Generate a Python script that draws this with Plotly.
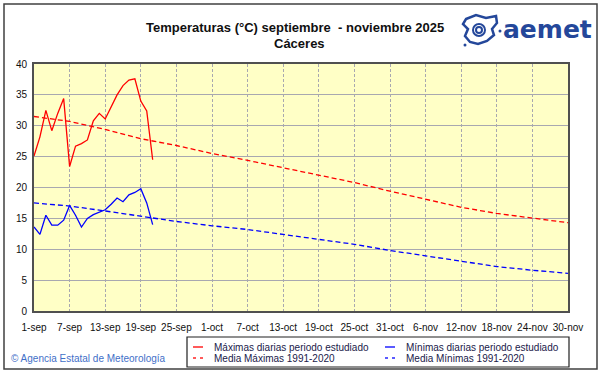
import datetime as dt
import plotly.graph_objects as go

# ---------------- data ----------------
start = dt.date(2025, 9, 1)
max_diarias = [25.1, 28.2, 32.5, 29.2, 32.0, 34.4, 23.4, 26.7, 27.1, 27.7, 30.8,
               32.0, 31.1, 33.1, 35.0, 36.5, 37.4, 37.6, 34.0, 32.4, 24.5]
min_diarias = [13.6, 12.4, 15.5, 13.9, 13.9, 14.7, 17.1, 15.5, 13.6, 15.0, 15.6,
               16.0, 16.4, 17.3, 18.3, 17.7, 18.8, 19.2, 19.8, 17.5, 14.0]
tick_labels = ["1-sep", "7-sep", "13-sep", "19-sep", "25-sep", "1-oct", "7-oct",
               "13-oct", "19-oct", "25-oct", "31-oct", "6-nov", "12-nov",
               "18-nov", "24-nov", "30-nov"]
media_max = [31.5, 30.7, 29.4, 27.9, 26.8, 25.5, 24.4, 23.2, 22.0, 20.8, 19.4,
             18.1, 16.8, 15.8, 15.0, 14.3]
media_min = [17.5, 17.0, 16.2, 15.3, 14.5, 13.8, 13.2, 12.4, 11.6, 10.8, 9.8,
             8.9, 8.0, 7.2, 6.6, 6.1]
y_ticks = [0, 5, 10, 15, 20, 25, 30, 35, 40]

days_obs = [start + dt.timedelta(days=i) for i in range(len(max_diarias))]
tick_dates = [start + dt.timedelta(days=6 * i) for i in range(len(tick_labels))]

# ---------------- layout helpers ----------------
W, H = 601, 374
L, R, T, B = 34, 33, 64, 63
PW, PH = W - L - R, H - T - B


def px(x):
    return (x - L) / PW


def py(y):
    return (H - B - y) / PH


RED, BLUE = "#FF0000", "#0000FF"
FONT = "Liberation Sans, Arial, sans-serif"

fig = go.Figure()
fig.add_trace(go.Scatter(x=tick_dates, y=media_max, mode="lines",
                         line=dict(color=RED, width=1.3, dash="5px,3px"),
                         name="Media Máximas 1991-2020", showlegend=False,
                         hoverinfo="skip"))
fig.add_trace(go.Scatter(x=tick_dates, y=media_min, mode="lines",
                         line=dict(color=BLUE, width=1.3, dash="5px,3px"),
                         name="Media Mínimas 1991-2020", showlegend=False,
                         hoverinfo="skip"))
fig.add_trace(go.Scatter(x=days_obs, y=max_diarias, mode="lines",
                         line=dict(color=RED, width=1.3),
                         name="Máximas diarias periodo estudiado", showlegend=False))
fig.add_trace(go.Scatter(x=days_obs, y=min_diarias, mode="lines",
                         line=dict(color=BLUE, width=1.3),
                         name="Mínimas diarias periodo estudiado", showlegend=False))

shapes = []
annotations = []

# outer frame
shapes.append(dict(type="rect", xref="paper", yref="paper",
                   x0=px(4), x1=px(597), y0=py(369), y1=py(4),
                   line=dict(color="#404040", width=1.5), layer="below"))

# legend box
shapes.append(dict(type="rect", xref="paper", yref="paper",
                   x0=px(187), x1=px(569), y0=py(367), y1=py(337),
                   line=dict(color="#202020", width=1.2), fillcolor="white"))
leg = [
    (193, 347, RED, "solid", "Máximas diarias periodo estudiado"),
    (385, 347, BLUE, "solid", "Mínimas diarias periodo estudiado"),
    (193, 358, RED, "dash", "Media Máximas 1991-2020"),
    (385, 358, BLUE, "dash", "Media Mínimas 1991-2020"),
]
for x0, yy, col, dsh, txt in leg:
    if dsh == "solid":
        shapes.append(dict(type="line", xref="paper", yref="paper",
                           x0=px(x0), x1=px(x0 + 10), y0=py(yy), y1=py(yy),
                           line=dict(color=col, width=1.3)))
    else:
        for seg in (0, 7):
            shapes.append(dict(type="line", xref="paper", yref="paper",
                               x0=px(x0 + seg), x1=px(x0 + seg + 3), y0=py(yy), y1=py(yy),
                               line=dict(color=col, width=1.3)))
    annotations.append(dict(xref="paper", yref="paper", x=px(x0 + 19), y=py(yy),
                            xanchor="left", yanchor="middle", showarrow=False,
                            text=txt, font=dict(family=FONT, size=10, color="#20204a")))

# title
TFONT = "Liberation Sans Narrow, Arial Narrow, Liberation Sans"
annotations.append(dict(xref="paper", yref="paper", x=px(295), y=py(27),
                        xanchor="center", yanchor="middle", showarrow=False,
                        text="Temperaturas (°C) septiembre  - noviembre 2025",
                        font=dict(family=TFONT, size=13, color="#101010", weight="bold")))
annotations.append(dict(xref="paper", yref="paper", x=px(299), y=py(44),
                        xanchor="center", yanchor="middle", showarrow=False,
                        text="Cáceres",
                        font=dict(family=TFONT, size=13, color="#101010", weight="bold")))

# footer
annotations.append(dict(xref="paper", yref="paper", x=px(9), y=py(358),
                        xanchor="left", yanchor="middle", showarrow=False,
                        text="© Agencia Estatal de Meteorología",
                        font=dict(family=FONT, size=10, color="#3f6fc8")))

# logo
LOGO = "#24479a"
pts = [(466, 19), (476, 15), (486, 18), (496, 16), (497, 23), (492, 29), (494, 35),
       (487, 41), (478, 44), (470, 42), (465, 36), (468, 29), (463, 24)]
path = "M " + " L ".join(f"{px(a):.4f},{py(b):.4f}" for a, b in pts) + " Z"
shapes.append(dict(type="path", xref="paper", yref="paper", path=path,
                   fillcolor="white", line=dict(color=LOGO, width=2.5)))
for r in (6, 3):
    shapes.append(dict(type="circle", xref="paper", yref="paper",
                       x0=px(479 - r), x1=px(479 + r), y0=py(30 + r), y1=py(30 - r),
                       line=dict(color=LOGO, width=2)))
for cx, cy in ((500, 31), (465, 45)):
    shapes.append(dict(type="circle", xref="paper", yref="paper",
                       x0=px(cx - 1.5), x1=px(cx + 1.5), y0=py(cy + 1.5), y1=py(cy - 1.5),
                       fillcolor=LOGO, line=dict(color=LOGO, width=0)))
annotations.append(dict(xref="paper", yref="paper", x=px(501), y=py(29),
                        xanchor="left", yanchor="middle", showarrow=False,
                        text="aemet",
                        font=dict(family="DejaVu Sans", size=25, color=LOGO, weight="bold")))

fig.update_layout(
    width=W, height=H,
    margin=dict(l=L, r=R, t=T, b=B, pad=0),
    paper_bgcolor="white",
    plot_bgcolor="#FFFFC6",
    showlegend=False,
    shapes=shapes,
    annotations=annotations,
    font=dict(family=FONT, size=10, color="#101010"),
)
fig.update_xaxes(
    range=[start, start + dt.timedelta(days=90)],
    tickvals=tick_dates, ticktext=tick_labels,
    showgrid=True, gridcolor="#A8A8B0", griddash="3px,2px", gridwidth=1,
    showline=True, linecolor="#505050", linewidth=2, mirror=True,
    ticks="outside", ticklen=6, tickcolor="rgba(0,0,0,0)",
    tickfont=dict(family=FONT, size=10, color="#101010"),
    zeroline=False, fixedrange=True,
)
fig.update_yaxes(
    range=[0, 40], tickvals=y_ticks,
    showgrid=True, gridcolor="#A8A8B0", gridwidth=1,
    showline=True, linecolor="#505050", linewidth=2, mirror=True,
    ticks="outside", ticklen=3, tickcolor="rgba(0,0,0,0)",
    tickfont=dict(family=FONT, size=10, color="#101010"),
    zeroline=False, fixedrange=True,
)

fig.write_html("out.html",
               config={"displayModeBar": False},
               post_script="document.body.style.margin='0';document.body.style.padding='0';")
